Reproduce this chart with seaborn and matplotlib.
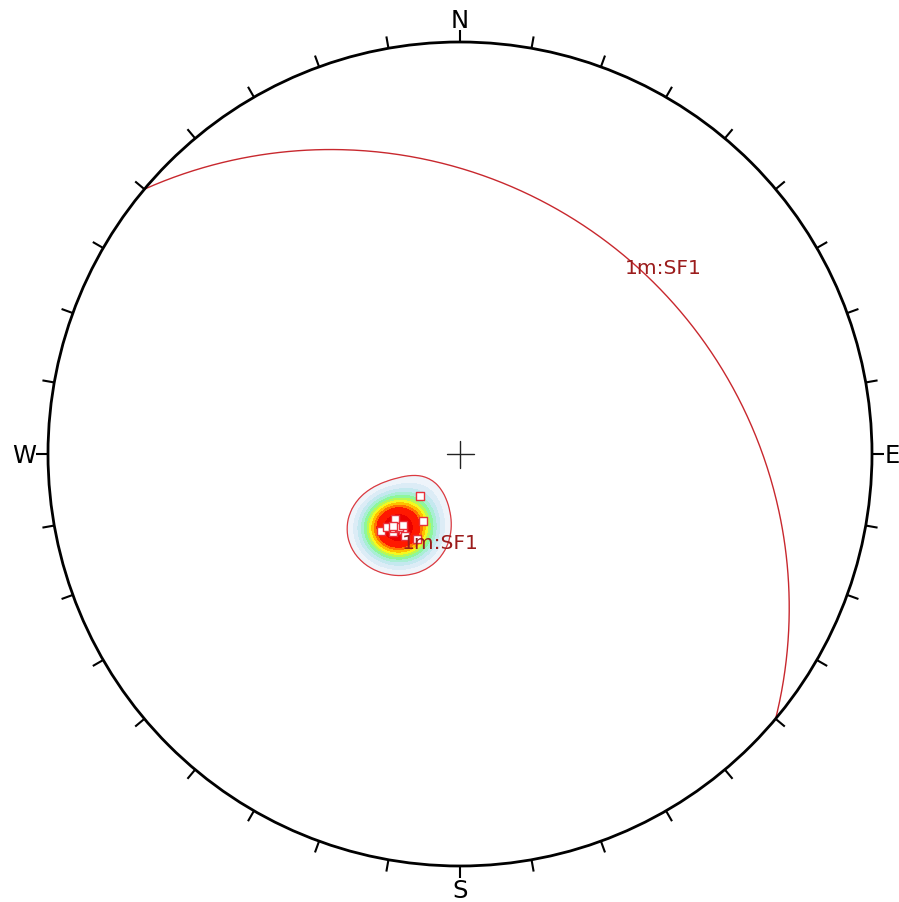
import numpy as np
import pandas as pd
import matplotlib
matplotlib.use("Agg")
import matplotlib.pyplot as plt
from matplotlib.colors import ListedColormap, BoundaryNorm
from matplotlib.patches import Circle
import seaborn as sns

# Measured planes (dip direction / dip, degrees); their poles are plotted
dip_direction = [46, 45, 41, 41, 37, 44, 29, 27, 45, 34, 42, 40, 43, 39]
dip = [30, 28, 28, 26, 26, 16, 21, 26, 25, 27, 27, 26, 27, 25]

# Mean plane of joint set 1
set_label = "1m:SF1"
mean_dip_direction = 40
mean_dip = 26

compass_labels = ["N", "E", "S", "W"]
tick_azimuths = list(range(0, 360, 10))

# pole density bands (fraction of peak) and their colours, low to high
density_levels = [0.07, 0.13, 0.19, 0.25, 0.31, 0.37, 0.43, 0.49, 0.56, 0.63, 0.82, 1.01]
density_colors = ["#eef4fa", "#dcecf6", "#c4e8ef", "#a8eed4", "#8ef69c",
                  "#b8f856", "#f6f81e", "#ffc000", "#ff7400", "#ff1800", "#ea0000"]
fisher_k = 125.0

sns.set_theme(style="white")
plt.rcParams["font.family"] = ["DejaVu Sans"]

W, H, DPI = 899, 902, 100
CX, CY, R = 460.0, 454.0, 412.0


def to_vec(trend, plunge):
    t = np.radians(trend)
    p = np.radians(plunge)
    return np.stack([np.cos(p) * np.sin(t), np.cos(p) * np.cos(t), np.sin(p)], axis=-1)


def stereo(trend, plunge):
    """Lower-hemisphere equal-angle projection of a line."""
    t = np.radians(trend)
    r = np.tan(np.radians(90.0 - np.asarray(plunge)) / 2.0)
    return r * np.sin(t), r * np.cos(t)


def inverse_stereo(x, y):
    r = np.hypot(x, y)
    plunge = 90.0 - 2.0 * np.degrees(np.arctan(r))
    trend = np.degrees(np.arctan2(x, y))
    return trend, plunge


def great_circle(dd, dp, n=361):
    s = np.radians(dd - 90.0)
    d = np.radians(dd)
    dr = np.radians(dp)
    t = np.radians(np.linspace(0, 180, n))
    sv = np.array([np.sin(s), np.cos(s), 0.0])
    dv = np.array([np.cos(dr) * np.sin(d), np.cos(dr) * np.cos(d), np.sin(dr)])
    v = np.outer(np.cos(t), sv) + np.outer(np.sin(t), dv)
    plunge = np.degrees(np.arcsin(np.clip(v[:, 2], -1, 1)))
    trend = np.degrees(np.arctan2(v[:, 0], v[:, 1]))
    return stereo(trend, plunge)


def px(x, y):
    return (x - CX) / R, (CY - y) / R


fig = plt.figure(figsize=(W / DPI, H / DPI), dpi=DPI)
ax = fig.add_axes([0, 0, 1, 1])
ax.set_xlim(px(0, 0)[0], px(W, 0)[0])
ax.set_ylim(px(0, H)[1], px(0, 0)[1])
ax.set_aspect("equal")
ax.axis("off")

# poles of the measured planes
pole_trend = (np.array(dip_direction) + 180.0) % 360.0
pole_plunge = 90.0 - np.array(dip)
pxs, pys = stereo(pole_trend, pole_plunge)
poles = pd.DataFrame({"x": pxs, "y": pys})

# Fisher-kernel pole density evaluated on the net (grid step ~3.4 px)
g = np.linspace(-1, 1, 241)
GX, GY = np.meshgrid(g, g)
gt, gp = inverse_stereo(GX, GY)
gv = to_vec(gt, gp)
pv = to_vec(pole_trend, pole_plunge)
dens = np.exp(fisher_k * (np.tensordot(gv, pv, axes=([2], [1])) - 1.0)).sum(axis=2)
dens = dens / dens.max()
dens[np.hypot(GX, GY) > 1] = 0

cmap = ListedColormap(density_colors)
norm = BoundaryNorm(density_levels, cmap.N)
ax.contourf(GX, GY, dens, levels=density_levels, cmap=cmap, norm=norm, zorder=2)
ax.contour(GX, GY, dens, levels=[density_levels[0]], colors="#dc3a40",
           linewidths=0.9, zorder=3)

sns.scatterplot(data=poles, x="x", y="y", marker="s", s=26, color="white",
                edgecolor="#e8303a", linewidth=1.0, ax=ax, zorder=5, legend=False)

# mean great circle
gx, gy = great_circle(mean_dip_direction, mean_dip)
ax.plot(gx, gy, color="#c8282e", lw=1.0, zorder=4)

# primitive circle and azimuth ticks
ax.add_patch(Circle((0, 0), 1.0, fill=False, lw=2.0, ec="black", zorder=6))
tick_len = 12.0 / R
for az in tick_azimuths:
    a = np.radians(az)
    ax.plot([np.sin(a), (1 + tick_len) * np.sin(a)],
            [np.cos(a), (1 + tick_len) * np.cos(a)],
            color="black", lw=1.5, zorder=6, solid_capstyle="butt")

# centre cross
c = 13.5 / R
ax.plot([-c, c], [0, 0], color="#222222", lw=1.0, zorder=6)
ax.plot([0, 0], [-c, c], color="#222222", lw=1.0, zorder=6)

# compass letters
fs = 17.5
ax.text(*px(460, 28), compass_labels[0], ha="center", va="baseline", fontsize=fs, color="black")
ax.text(*px(460, 898), compass_labels[2], ha="center", va="baseline", fontsize=fs, color="black")
ax.text(*px(36, 463), compass_labels[3], ha="right", va="baseline", fontsize=fs, color="black")
ax.text(*px(885, 463), compass_labels[1], ha="left", va="baseline", fontsize=fs, color="black")

# set labels
lab_col = "#9b1c1c"
ax.text(*px(625, 274), set_label, ha="left", va="baseline", fontsize=14.5, color=lab_col, zorder=7)
ax.text(*px(402, 549), set_label, ha="left", va="baseline", fontsize=14.5, color=lab_col, zorder=7)

fig.savefig("out.png", dpi=DPI, facecolor="white")
